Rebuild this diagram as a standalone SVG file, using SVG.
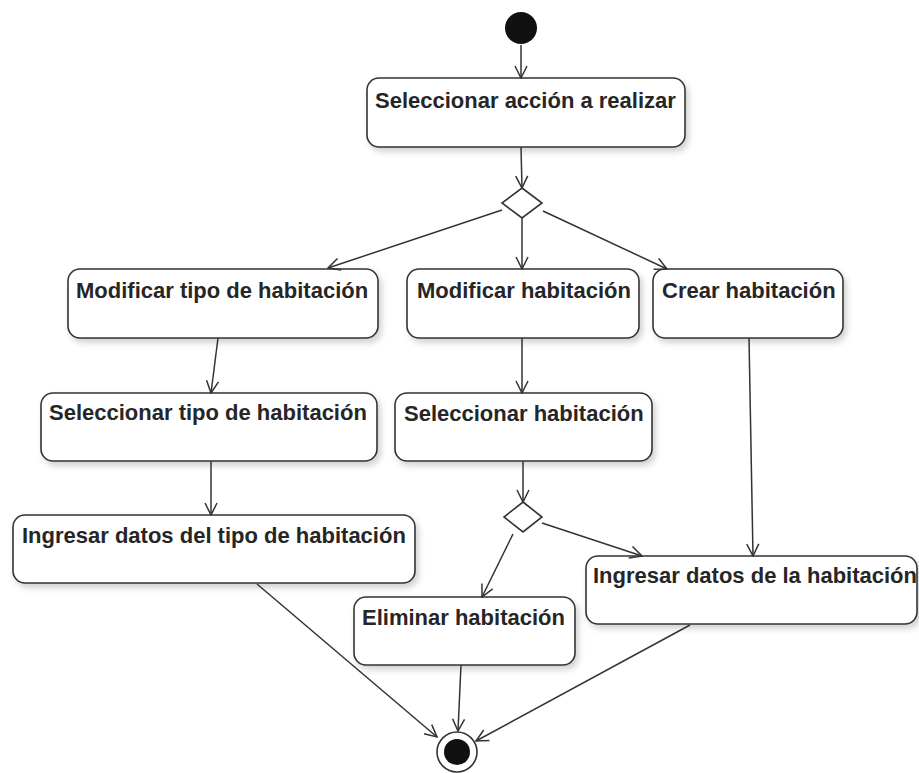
<svg xmlns="http://www.w3.org/2000/svg" width="919" height="773" viewBox="0 0 919 773">
  <defs>
    <filter id="shadow" x="-10%" y="-20%" width="130%" height="150%">
      <feDropShadow dx="3" dy="4" stdDeviation="3" flood-color="#000" flood-opacity="0.18"/>
    </filter>
    <marker id="open" viewBox="0 0 14 14" refX="13" refY="7" markerWidth="14" markerHeight="14" markerUnits="userSpaceOnUse" orient="auto">
      <path d="M1,1 L13,7 L1,13" fill="none" stroke="#333" stroke-width="1.5"/>
    </marker>
  </defs>
  <style>
    .act rect { fill: #fff; stroke: #333; stroke-width: 1.6; filter: url(#shadow); }
    .act text { font-family: "Liberation Sans", Arial, sans-serif; font-weight: bold; font-size: 22px; fill: #262626; }
    .edge { fill: none; stroke: #333; stroke-width: 1.5; marker-end: url(#open); }
    .decision { fill: #fff; stroke: #333; stroke-width: 1.6; }
  </style>
  <rect width="919" height="773" fill="#fff"/>

  <!-- initial node -->
  <g id="start">
    <circle cx="521" cy="28" r="16" fill="#111"/>
  </g>

  <!-- actions -->
  <g id="seleccionar-accion" class="act">
    <rect x="367" y="78" width="318" height="69" rx="12"/>
    <text x="375" y="108">Seleccionar acción a realizar</text>
  </g>
  <g id="decision-1">
    <polygon class="decision" points="522,188 542,203 522,218 502,203"/>
  </g>
  <g id="modificar-tipo" class="act">
    <rect x="68" y="269" width="310" height="69" rx="12"/>
    <text x="76" y="298">Modificar tipo de habitación</text>
  </g>
  <g id="modificar-habitacion" class="act">
    <rect x="407" y="269" width="232" height="69" rx="12"/>
    <text x="417" y="298">Modificar habitación</text>
  </g>
  <g id="crear-habitacion" class="act">
    <rect x="653" y="269" width="190" height="69" rx="12"/>
    <text x="662" y="298">Crear habitación</text>
  </g>
  <g id="seleccionar-tipo" class="act">
    <rect x="41" y="393" width="336" height="68" rx="12"/>
    <text x="49" y="420">Seleccionar tipo de habitación</text>
  </g>
  <g id="seleccionar-habitacion" class="act">
    <rect x="395" y="393" width="257" height="68" rx="12"/>
    <text x="404" y="421">Seleccionar habitación</text>
  </g>
  <g id="ingresar-datos-tipo" class="act">
    <rect x="13" y="515" width="402" height="68" rx="12"/>
    <text x="22" y="543">Ingresar datos del tipo de habitación</text>
  </g>
  <g id="decision-2">
    <polygon class="decision" points="523,502 542,517 523,532 504,517"/>
  </g>
  <g id="eliminar-habitacion" class="act">
    <rect x="354" y="597" width="221" height="68" rx="12"/>
    <text x="362" y="625">Eliminar habitación</text>
  </g>
  <g id="ingresar-datos-habitacion" class="act">
    <rect x="586" y="556" width="331" height="68" rx="12"/>
    <text x="593" y="583">Ingresar datos de la habitación</text>
  </g>

  <!-- final node -->
  <g id="end">
    <circle cx="457" cy="752" r="20" fill="#fff" stroke="#333" stroke-width="1.6"/>
    <circle cx="457" cy="752" r="13" fill="#111"/>
  </g>

  <!-- control flows -->
  <g id="connectors">
    <line class="edge" x1="521" y1="45" x2="521" y2="78"/>
    <line class="edge" x1="521" y1="147" x2="522" y2="188"/>
    <line class="edge" x1="502" y1="210" x2="328" y2="268"/>
    <line class="edge" x1="522" y1="218" x2="522" y2="269"/>
    <line class="edge" x1="543" y1="211" x2="667" y2="269"/>
    <line class="edge" x1="218" y1="338" x2="211" y2="393"/>
    <line class="edge" x1="211" y1="461" x2="211" y2="515"/>
    <line class="edge" x1="522" y1="338" x2="522" y2="393"/>
    <line class="edge" x1="523" y1="461" x2="523" y2="502"/>
    <line class="edge" x1="513" y1="534" x2="482" y2="597"/>
    <line class="edge" x1="542" y1="523" x2="642" y2="556"/>
    <line class="edge" x1="749" y1="338" x2="753" y2="556"/>
    <line class="edge" x1="257" y1="584" x2="437" y2="737"/>
    <line class="edge" x1="461" y1="665" x2="458" y2="731"/>
    <line class="edge" x1="690" y1="625" x2="476" y2="741"/>
  </g>
</svg>
